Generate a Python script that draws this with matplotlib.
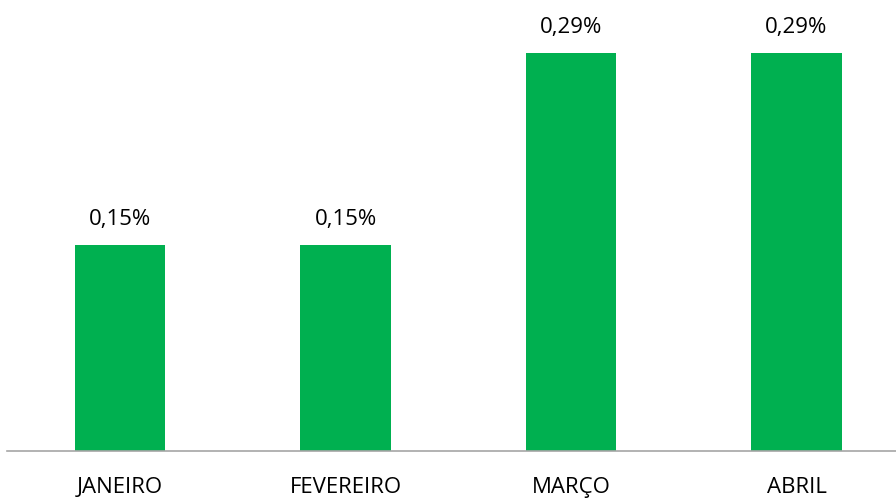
import matplotlib.pyplot as plt

# Data
months = ['JANEIRO', 'FEVEREIRO', 'MARÇO', 'ABRIL']
values = [0.15, 0.15, 0.29, 0.29]
labels = ['0,15%', '0,15%', '0,29%', '0,29%']

fig = plt.figure(figsize=(8.96, 4.98), dpi=100)
ax = fig.add_axes([0, 47 / 498, 1, 451 / 498])

x = range(len(months))
bars = ax.bar(x, values, width=0.4, color='#00B050')

for bar, lab in zip(bars, labels):
    ax.annotate(lab, (bar.get_x() + bar.get_width() / 2, bar.get_height()),
                xytext=(0, 18.5), textcoords='offset points', ha='center', va='center',
                fontsize=16, family='Open Sans', color='#000000')

ax.set_xlim(-0.532, 3.441)
ax.set_ylim(0, 0.3286)
ax.set_xticks(list(x))
ax.set_xticklabels(months, fontsize=16, family='Open Sans')
ax.tick_params(axis='x', length=0, pad=19)
ax.set_yticks([])
for s in ['top', 'right', 'left']:
    ax.spines[s].set_visible(False)
ax.spines['bottom'].set_color('#a6a6a6')
ax.spines['bottom'].set_linewidth(1.2)
ax.spines['bottom'].set_bounds(-0.5, 3.5)

fig.savefig('out.png', dpi=100)
